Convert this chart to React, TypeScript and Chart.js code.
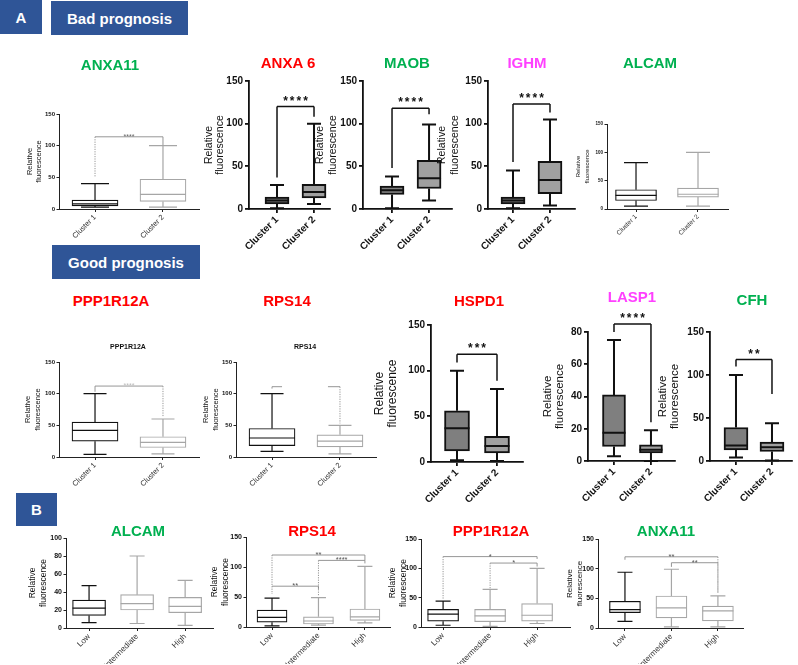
import React, { useEffect, useRef } from 'react';
import { Chart, registerables } from 'chart.js';

Chart.register(...registerables);

const FONT = '"Liberation Sans", Arial, Helvetica, sans-serif';

// ---------- data ----------
const clusterLabels = ['Cluster 1', 'Cluster 2'];
const levelLabels = ['Low', 'Intermediate', 'High'];
const yTitleLines = ['Relative', 'fluorescence'];

// each box: [min, q1, median, q3, max]
const anxa11Bad = [[3, 5, 8, 14, 40], [3, 12, 23, 47, 100]];
const anxa6Bad = [[1, 6, 10, 14, 28], [6, 13, 20, 29, 100]];
const maobBad = [[1, 17, 22, 27, 38], [10, 24, 36, 57, 99]];
const ighmBad = [[1, 6, 10, 14, 45], [4, 18, 34, 56, 105]];
const alcamBad = [[5, 15, 24, 34, 82], [5, 21, 26, 37, 100]];
const ppp1r12aGood = [[4, 25, 42, 55, 100], [5, 15, 23, 32, 60]];
const rps14Good = [[9, 18, 30, 45, 100], [5, 16, 25, 35, 50]];
const hspd1Good = [[2, 12, 37, 56, 100], [1, 10, 17.5, 28, 80]];
const lasp1Good = [[3, 9, 17.5, 41, 75], [0, 5, 7, 10, 19]];
const cfhGood = [[4, 13, 18, 39, 100], [0.5, 11, 16, 22, 44]];
const alcamLevels = [[6, 14, 22, 31, 47], [5, 20, 27, 37, 80], [3, 17, 24, 34, 53]];
const rps14Levels = [[2, 8, 16, 28, 48], [3, 5, 10, 17, 49], [7, 11, 17, 30, 101]];
const ppp1r12aLevels = [[3, 10, 22, 30, 44], [1, 9, 19, 30, 64], [6, 10, 20, 40, 100]];
const anxa11Levels = [[11, 26, 31, 45, 94], [2, 17, 34, 54, 99], [2, 12, 29, 37, 54]];

// significance brackets: [groupA, groupB, bracketValue, endA, endB, label]
const anxa11BadSig = [[1, 2, 114, 50, 101, '****']];
const anxa6BadSig = [[1, 2, 120, 37, 108, '****']];
const maobBadSig = [[1, 2, 118, 48, 111, '****']];
const ighmBadSig = [[1, 2, 123, 55, 113, '****']];
const ppp1r12aGoodSig = [[1, 2, 112, 103, 64, '****']];
const rps14GoodSig = [[1, 2, 111, 108, 53, '']];
const hspd1GoodSig = [[1, 2, 118, 109, 89, '***']];
const lasp1GoodSig = [[1, 2, 85, 80, 24, '****']];
const cfhGoodSig = [[1, 2, 118, 110, 78, '**']];
const rps14LevelSig = [[1, 3, 120, 68, 111, '**'], [2, 3, 111, 52, 106, '****'], [1, 2, 68, 55, 63, '**']];
const ppp1r12aLevelSig = [[1, 3, 120, 48, 116, '*'], [2, 3, 109, 66, 103, '*']];
const anxa11LevelSig = [[1, 3, 120, 115, 59, '**'], [2, 3, 110, 103, 59, '**']];

// ---------- layout / style ----------
type Panel = {
  id: string;
  labels: string[];
  stats: number[][];
  sig: any[];
  dotA?: boolean;
  dotB?: boolean;
  stub?: boolean;
  large: boolean;
  area: number[]; // L, T, R, B
  xRange: number[];
  yMax: number;
  yStep: number;
  boxW: number;
  capW: number;
  yTitleX: number;
  yTitleSize: number;
  yTitleLH: number;
  tickSize: number;
  xTickSize: number;
  xH: number;
  starSize: number;
  starColor: string;
};

const PAD_TOP = 45;
const PAD_RIGHT = 6;

const panels: Panel[] = [
  { id: 'anxa11Bad', labels: clusterLabels, stats: anxa11Bad, sig: anxa11BadSig, dotA: true, large: false,
    area: [59, 114, 199, 209], xRange: [0.47, 2.53], yMax: 150, yStep: 50, boxW: 46, capW: 28,
    yTitleX: 29, yTitleSize: 7.5, yTitleLH: 1.2, tickSize: 6, xTickSize: 7.5, xH: 40, starSize: 7, starColor: '#666' },
  { id: 'anxa6Bad', labels: clusterLabels, stats: anxa6Bad, sig: anxa6BadSig, large: true,
    area: [249, 81, 330, 209], xRange: [0.243, 2.432], yMax: 150, yStep: 50, boxW: 24, capW: 14,
    yTitleX: 210, yTitleSize: 10.5, yTitleLH: 1.05, tickSize: 10, xTickSize: 10, xH: 55, starSize: 12, starColor: '#111' },
  { id: 'maobBad', labels: clusterLabels, stats: maobBad, sig: maobBadSig, large: true,
    area: [363, 81, 452, 209], xRange: [0.216, 2.62], yMax: 150, yStep: 50, boxW: 24, capW: 14,
    yTitleX: 320, yTitleSize: 10.5, yTitleLH: 1.22, tickSize: 10, xTickSize: 10, xH: 55, starSize: 12, starColor: '#111' },
  { id: 'ighmBad', labels: clusterLabels, stats: ighmBad, sig: ighmBadSig, large: true,
    area: [488, 81, 575, 209], xRange: [0.324, 2.676], yMax: 150, yStep: 50, boxW: 24, capW: 14,
    yTitleX: 442, yTitleSize: 10.5, yTitleLH: 1.22, tickSize: 10, xTickSize: 10, xH: 55, starSize: 12, starColor: '#111' },
  { id: 'alcamBad', labels: clusterLabels, stats: alcamBad, sig: [], large: false,
    area: [607, 124, 728, 209], xRange: [0.532, 2.484], yMax: 150, yStep: 50, boxW: 41, capW: 24,
    yTitleX: 578, yTitleSize: 6, yTitleLH: 1.45, tickSize: 4.5, xTickSize: 6.5, xH: 40, starSize: 7, starColor: '#666' },
  { id: 'ppp1r12aGood', labels: clusterLabels, stats: ppp1r12aGood, sig: ppp1r12aGoodSig, dotB: true, large: false,
    area: [59, 362, 199, 457], xRange: [0.47, 2.53], yMax: 150, yStep: 50, boxW: 46, capW: 23,
    yTitleX: 28, yTitleSize: 7.5, yTitleLH: 1.33, tickSize: 6, xTickSize: 7.5, xH: 40, starSize: 7, starColor: '#bbb' },
  { id: 'rps14Good', labels: clusterLabels, stats: rps14Good, sig: rps14GoodSig, dotB: true, stub: true, large: false,
    area: [236, 362, 376, 457], xRange: [0.47, 2.53], yMax: 150, yStep: 50, boxW: 46, capW: 23,
    yTitleX: 206, yTitleSize: 7.5, yTitleLH: 1.33, tickSize: 6, xTickSize: 7.5, xH: 40, starSize: 7, starColor: '#bbb' },
  { id: 'hspd1Good', labels: clusterLabels, stats: hspd1Good, sig: hspd1GoodSig, large: true,
    area: [431, 325, 523, 462], xRange: [0.35, 2.65], yMax: 150, yStep: 50, boxW: 25, capW: 14,
    yTitleX: 380, yTitleSize: 12, yTitleLH: 1.1, tickSize: 10, xTickSize: 10, xH: 55, starSize: 12, starColor: '#111' },
  { id: 'lasp1Good', labels: clusterLabels, stats: lasp1Good, sig: lasp1GoodSig, large: true,
    area: [588, 332, 675, 461], xRange: [0.297, 2.65], yMax: 80, yStep: 20, boxW: 23, capW: 14,
    yTitleX: 548, yTitleSize: 11.5, yTitleLH: 1.05, tickSize: 10, xTickSize: 10, xH: 55, starSize: 12, starColor: '#111' },
  { id: 'cfhGood', labels: clusterLabels, stats: cfhGood, sig: cfhGoodSig, large: true,
    area: [710, 332, 792, 461], xRange: [0.278, 2.556], yMax: 150, yStep: 50, boxW: 24, capW: 14,
    yTitleX: 663, yTitleSize: 11.5, yTitleLH: 1.05, tickSize: 10, xTickSize: 10, xH: 55, starSize: 12, starColor: '#111' },
  { id: 'alcamLevels', labels: levelLabels, stats: alcamLevels, sig: [], large: false,
    area: [66, 538, 213, 628], xRange: [0.52, 3.58], yMax: 100, yStep: 20, boxW: 33, capW: 15,
    yTitleX: 33, yTitleSize: 8.5, yTitleLH: 1.2, tickSize: 7, xTickSize: 8, xH: 36, starSize: 7.5, starColor: '#555' },
  { id: 'rps14Levels', labels: levelLabels, stats: rps14Levels, sig: rps14LevelSig, dotA: true, large: false,
    area: [246, 537, 390, 627], xRange: [0.44, 3.54], yMax: 150, yStep: 50, boxW: 30, capW: 15,
    yTitleX: 215, yTitleSize: 8.5, yTitleLH: 1.2, tickSize: 7, xTickSize: 8, xH: 37, starSize: 7.5, starColor: '#555' },
  { id: 'ppp1r12aLevels', labels: levelLabels, stats: ppp1r12aLevels, sig: ppp1r12aLevelSig, dotA: true, large: false,
    area: [421, 539, 570, 627], xRange: [0.53, 3.7], yMax: 150, yStep: 50, boxW: 31, capW: 15,
    yTitleX: 393, yTitleSize: 8.5, yTitleLH: 1.2, tickSize: 7, xTickSize: 8, xH: 37, starSize: 7.5, starColor: '#555' },
  { id: 'anxa11Levels', labels: levelLabels, stats: anxa11Levels, sig: anxa11LevelSig, dotB: true, large: false,
    area: [598, 539, 743, 628], xRange: [0.42, 3.54], yMax: 150, yStep: 50, boxW: 31, capW: 15,
    yTitleX: 570, yTitleSize: 8, yTitleLH: 1.25, tickSize: 7, xTickSize: 8, xH: 36, starSize: 7.5, starColor: '#555' },
];

const GREEN = '#00b050';
const RED = '#ff0000';
const MAGENTA = '#ff40ff';

const geneTitles = [
  { text: 'ANXA11', color: GREEN, x: 110, y: 65 },
  { text: 'ANXA 6', color: RED, x: 288, y: 63 },
  { text: 'MAOB', color: GREEN, x: 407, y: 63 },
  { text: 'IGHM', color: MAGENTA, x: 527, y: 63 },
  { text: 'ALCAM', color: GREEN, x: 650, y: 63 },
  { text: 'PPP1R12A', color: RED, x: 111, y: 301 },
  { text: 'RPS14', color: RED, x: 287, y: 301 },
  { text: 'HSPD1', color: RED, x: 479, y: 301 },
  { text: 'LASP1', color: MAGENTA, x: 632, y: 297 },
  { text: 'CFH', color: GREEN, x: 752, y: 300 },
  { text: 'ALCAM', color: GREEN, x: 138, y: 531 },
  { text: 'RPS14', color: RED, x: 312, y: 531 },
  { text: 'PPP1R12A', color: RED, x: 491, y: 531 },
  { text: 'ANXA11', color: GREEN, x: 666, y: 531 },
];

const innerTitles = [
  { text: 'PPP1R12A', x: 128, y: 347 },
  { text: 'RPS14', x: 305, y: 347 },
];

const headers = [
  { text: 'A', x: 0, y: 0, w: 42, h: 34 },
  { text: 'Bad prognosis', x: 51, y: 1, w: 137, h: 34 },
  { text: 'Good prognosis', x: 52, y: 245, w: 148, h: 34 },
  { text: 'B', x: 16, y: 493, w: 41, h: 33 },
];

function geometry(p: Panel) {
  const [L, T, R, B] = p.area;
  const lh = p.yTitleSize * p.yTitleLH;
  const left = Math.round(p.yTitleX - lh / 2 - 1);
  const top = T - PAD_TOP;
  const w = Math.round(R + PAD_RIGHT - left);
  const h = Math.round(PAD_TOP + (B - T) + p.xH);
  return { left, top, w, h, W: L - left };
}

function makePlugin(p: Panel) {
  const large = p.large;
  const lw = large ? 2 : 1.2;
  const lineColor = (i: number) => (large ? '#111' : i === 0 ? '#111' : '#a6a6a6');
  return {
    id: 'boxExtras',
    afterDatasetsDraw(chart: any) {
      const ctx = chart.ctx;
      const xs = chart.scales.x;
      const ys = chart.scales.y;
      p.stats.forEach((s, i) => {
        const cx = xs.getPixelForValue(i + 1);
        const [mn, q1, md, q3, mx] = s.map((v) => ys.getPixelForValue(v));
        ctx.save();
        ctx.strokeStyle = lineColor(i);
        ctx.lineWidth = lw;
        ctx.beginPath();
        ctx.moveTo(cx, q3); ctx.lineTo(cx, mx);
        ctx.moveTo(cx, q1); ctx.lineTo(cx, mn);
        ctx.moveTo(cx - p.capW / 2, mx); ctx.lineTo(cx + p.capW / 2, mx);
        ctx.moveTo(cx - p.capW / 2, mn); ctx.lineTo(cx + p.capW / 2, mn);
        ctx.moveTo(cx - p.boxW / 2, md); ctx.lineTo(cx + p.boxW / 2, md);
        ctx.stroke();
        ctx.restore();
      });
    },
    afterDraw(chart: any) {
      const ctx = chart.ctx;
      const xs = chart.scales.x;
      const ys = chart.scales.y;
      p.sig.forEach((b: any[]) => {
        const [a, bb, yv, ea, eb, label] = b;
        const xa = xs.getPixelForValue(a);
        const xb = xs.getPixelForValue(bb);
        const y = ys.getPixelForValue(yv);
        const ya = ys.getPixelForValue(ea);
        const yb = ys.getPixelForValue(eb);
        ctx.save();
        ctx.strokeStyle = large ? '#111' : '#8a8a8a';
        ctx.lineWidth = large ? 1.5 : 0.9;
        ctx.beginPath();
        if (p.stub) {
          ctx.moveTo(xa, y); ctx.lineTo(xa + 10, y);
          ctx.moveTo(xb - 12, y); ctx.lineTo(xb, y);
        } else {
          ctx.moveTo(xa, y); ctx.lineTo(xb, y);
        }
        ctx.stroke();
        const leg = (x: number, y2: number, dot?: boolean) => {
          ctx.setLineDash(dot ? [1.2, 1.2] : []);
          ctx.beginPath();
          ctx.moveTo(x, y);
          ctx.lineTo(x, y2);
          ctx.stroke();
        };
        leg(xa, ya, p.dotA);
        leg(xb, yb, p.dotB);
        ctx.setLineDash([]);
        if (label) {
          ctx.fillStyle = p.starColor;
          ctx.font = `${large ? 'bold ' : ''}${p.starSize}px ${FONT}`;
          (ctx as any).letterSpacing = large ? '2px' : '0px';
          ctx.textAlign = 'center';
          ctx.textBaseline = 'alphabetic';
          ctx.fillText(label, (xa + xb) / 2 + (large ? 1 : 0), y + (large ? -2 : 2));
        }
        ctx.restore();
      });
    },
  };
}

function BoxPanel({ p }: { p: Panel }) {
  const ref = useRef<HTMLCanvasElement>(null);
  const g = geometry(p);
  useEffect(() => {
    const large = p.large;
    const lw = large ? 2 : 1.2;
    const axisColor = large ? '#111' : '#222';
    const axisW = large ? 1.8 : 1;
    const fills = p.stats.map((_, i) => (large ? (i === 0 ? '#7f7f7f' : '#a0a0a0') : '#ffffff'));
    const lines = p.stats.map((_, i) => (large ? '#111' : i === 0 ? '#111' : '#a6a6a6'));
    const chart = new Chart(ref.current as HTMLCanvasElement, {
      type: 'bar',
      data: {
        datasets: [
          {
            data: p.stats.map((s, i) => ({ x: i + 1, y: [s[1], s[3]] })) as any,
            backgroundColor: fills,
            borderColor: lines,
            borderWidth: lw,
            borderSkipped: false,
            barThickness: p.boxW,
          },
        ],
      },
      options: {
        responsive: false,
        animation: false,
        devicePixelRatio: 1,
        events: [],
        layout: { padding: { left: 0, top: PAD_TOP, right: PAD_RIGHT, bottom: 0 } },
        plugins: { legend: { display: false }, tooltip: { enabled: false }, title: { display: false } },
        scales: {
          x: {
            type: 'linear',
            bounds: 'data',
            min: p.xRange[0],
            max: p.xRange[1],
            offset: false,
            afterBuildTicks: (s: any) => {
              s.ticks = p.labels.map((_, i) => ({ value: i + 1 }));
            },
            afterFit: (s: any) => {
              s.height = p.xH;
              s.paddingLeft = 0;
              s.paddingRight = 0;
            },
            ticks: {
              callback: (v: any) => p.labels[Math.round(Number(v)) - 1] ?? '',
              autoSkip: false,
              minRotation: 45,
              maxRotation: 45,
              padding: 1,
              color: large ? '#111' : '#333',
              font: { family: FONT, size: p.xTickSize, weight: large ? 'bold' : 'normal' },
            },
            grid: {
              display: true,
              drawOnChartArea: false,
              drawTicks: true,
              tickLength: large ? 4 : 3,
              color: axisColor,
              lineWidth: axisW,
              offset: false,
            },
            border: { display: true, color: axisColor, width: axisW },
          },
          y: {
            type: 'linear',
            min: 0,
            max: p.yMax,
            afterFit: (s: any) => {
              s.width = g.W;
              s.paddingTop = 0;
              s.paddingBottom = 0;
            },
            ticks: {
              stepSize: p.yStep,
              padding: large ? 2 : 1.5,
              color: '#111',
              font: { family: FONT, size: p.tickSize, weight: 'bold' },
            },
            grid: {
              display: true,
              drawOnChartArea: false,
              drawTicks: true,
              tickLength: large ? 4 : 2.5,
              color: axisColor,
              lineWidth: axisW,
            },
            border: { display: true, color: axisColor, width: axisW },
            title: {
              display: true,
              text: yTitleLines,
              color: '#111',
              padding: { top: 1, bottom: 0 },
              font: { family: FONT, size: p.yTitleSize, lineHeight: p.yTitleLH, weight: 'normal' },
            },
          },
        },
      } as any,
      plugins: [makePlugin(p)],
    });
    return () => chart.destroy();
  }, []);
  return (
    <canvas
      ref={ref}
      width={g.w}
      height={g.h}
      style={{ position: 'absolute', left: g.left, top: g.top, width: g.w, height: g.h }}
    />
  );
}

export default function App() {
  return (
    <div
      style={{
        position: 'absolute',
        left: 0,
        top: 0,
        width: 798,
        height: 665,
        background: '#ffffff',
        overflow: 'hidden',
        fontFamily: FONT,
      }}
    >
      {headers.map((h) => (
        <div
          key={h.text}
          style={{
            position: 'absolute',
            left: h.x,
            top: h.y,
            width: h.w,
            height: h.h,
            background: '#2f5597',
            color: '#ffffff',
            fontWeight: 'bold',
            fontSize: 15,
            display: 'flex',
            alignItems: 'center',
            justifyContent: 'center',
          }}
        >
          {h.text}
        </div>
      ))}
      {panels.map((p) => (
        <BoxPanel key={p.id} p={p} />
      ))}
      {geneTitles.map((t, i) => (
        <div
          key={i}
          style={{
            position: 'absolute',
            left: t.x - 80,
            top: t.y - 9,
            width: 160,
            height: 18,
            lineHeight: '18px',
            textAlign: 'center',
            color: t.color,
            fontWeight: 'bold',
            fontSize: 15,
          }}
        >
          {t.text}
        </div>
      ))}
      {innerTitles.map((t, i) => (
        <div
          key={'in' + i}
          style={{
            position: 'absolute',
            left: t.x - 40,
            top: t.y - 5,
            width: 80,
            height: 10,
            lineHeight: '10px',
            textAlign: 'center',
            color: '#111',
            fontWeight: 'bold',
            fontSize: 7,
          }}
        >
          {t.text}
        </div>
      ))}
    </div>
  );
}
